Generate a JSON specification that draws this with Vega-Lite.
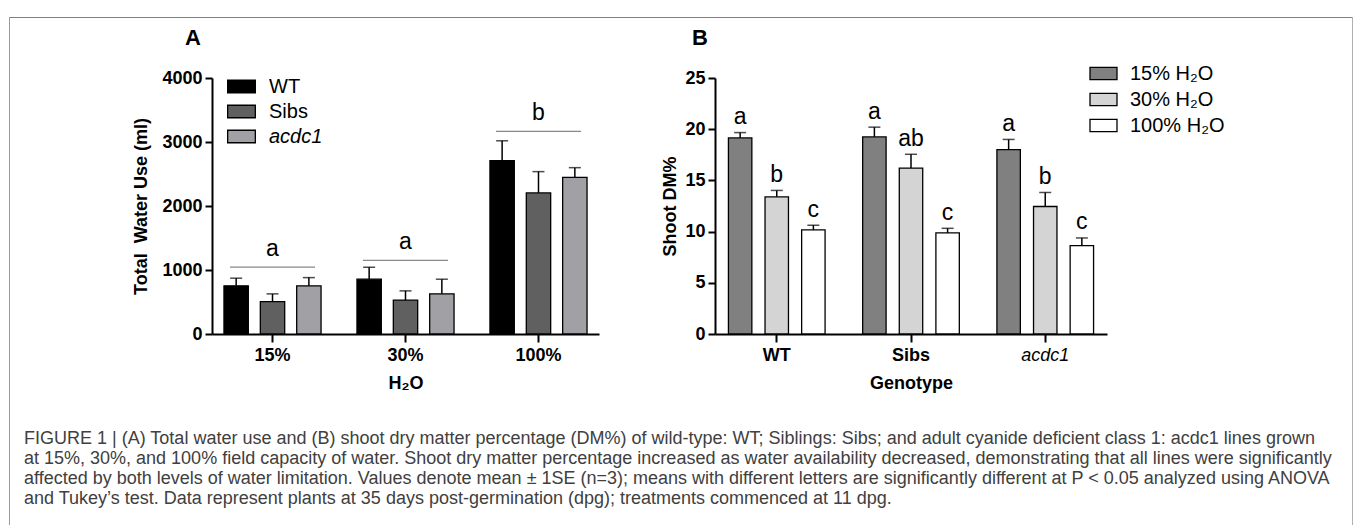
{
  "$schema": "https://vega.github.io/schema/vega-lite/v6.json",
  "padding": {"left": 9, "top": 11, "right": 0, "bottom": 0},
  "background": "white",
  "spacing": 0,
  "datasets": {
    "waterUse": [
      {"water": "15%", "genotype": "WT", "mean": 752, "upper": 872},
      {"water": "15%", "genotype": "Sibs", "mean": 507, "upper": 627},
      {"water": "15%", "genotype": "acdc1", "mean": 752, "upper": 881},
      {"water": "30%", "genotype": "WT", "mean": 856, "upper": 1043},
      {"water": "30%", "genotype": "Sibs", "mean": 529, "upper": 674},
      {"water": "30%", "genotype": "acdc1", "mean": 627, "upper": 856},
      {"water": "100%", "genotype": "WT", "mean": 2708, "upper": 3019},
      {"water": "100%", "genotype": "Sibs", "mean": 2204, "upper": 2537},
      {"water": "100%", "genotype": "acdc1", "mean": 2448, "upper": 2599}
    ],
    "waterLetters": [
      {"water": "15%", "letter": "a", "level": 1045},
      {"water": "30%", "letter": "a", "level": 1150},
      {"water": "100%", "letter": "b", "level": 3165}
    ],
    "dm": [
      {"genotype": "WT", "water": "15% H₂O", "mean": 19.15, "upper": 19.67, "letter": "a"},
      {"genotype": "WT", "water": "30% H₂O", "mean": 13.4, "upper": 14.02, "letter": "b"},
      {"genotype": "WT", "water": "100% H₂O", "mean": 10.17, "upper": 10.62, "letter": "c"},
      {"genotype": "Sibs", "water": "15% H₂O", "mean": 19.25, "upper": 20.2, "letter": "a"},
      {"genotype": "Sibs", "water": "30% H₂O", "mean": 16.2, "upper": 17.55, "letter": "ab"},
      {"genotype": "Sibs", "water": "100% H₂O", "mean": 9.87, "upper": 10.32, "letter": "c"},
      {"genotype": "acdc1", "water": "15% H₂O", "mean": 18.0, "upper": 19.0, "letter": "a"},
      {"genotype": "acdc1", "water": "30% H₂O", "mean": 12.45, "upper": 13.82, "letter": "b"},
      {"genotype": "acdc1", "water": "100% H₂O", "mean": 8.63, "upper": 9.38, "letter": "c"}
    ]
  },
  "config": {
    "view": {"stroke": null},
    "font": "Liberation Sans",
    "axis": {
      "domainColor": "black", "domainWidth": 2, "tickColor": "black", "tickWidth": 2, "tickSize": 7,
      "labelFont": "Liberation Sans", "labelFontSize": 18, "labelFontWeight": "bold", "labelColor": "black", "labelPadding": 3,
      "titleFont": "Liberation Sans", "titleFontSize": 18, "titleFontWeight": "bold", "titleColor": "black", "grid": false
    },
    "axisX": {"tickSize": 8, "labelPadding": 4, "titlePadding": 10, "labelAngle": 0}
  },
  "hconcat": [
    {
      "width": 1, "height": 512,
      "view": {"stroke": null, "fill": "#9a9a9a"},
      "data": {"values": [{}]},
      "mark": {"type": "text", "text": ""}
    },
    {
      "spacing": 4,
      "title": {
        "text": [
          "FIGURE 1 | (A) Total water use and (B) shoot dry matter percentage (DM%) of wild-type: WT; Siblings: Sibs; and adult cyanide deficient class 1: acdc1 lines grown",
          "at 15%, 30%, and 100% field capacity of water. Shoot dry matter percentage increased as water availability decreased, demonstrating that all lines were significantly",
          "affected by both levels of water limitation. Values denote mean ± 1SE (n=3); means with different letters are significantly different at P < 0.05 analyzed using ANOVA",
          "and Tukey’s test. Data represent plants at 35 days post-germination (dpg); treatments commenced at 11 dpg."
        ],
        "orient": "bottom", "anchor": "start", "frame": "group", "dx": 14, "offset": 38,
        "fontSize": 18, "fontWeight": "normal", "font": "Liberation Sans", "color": "#404040",
        "lineHeight": 20, "baseline": "top"
      },
      "vconcat": [
        {
          "width": 1342, "height": 1,
          "view": {"stroke": null, "fill": "#808080"},
          "data": {"values": [{}]},
          "mark": {"type": "text", "text": ""}
        },
        {
          "bounds": "flush",
          "spacing": 116,
          "resolve": {
            "scale": {"x": "independent", "y": "independent", "xOffset": "independent", "fill": "independent"},
            "axis": {"x": "independent", "y": "independent"},
            "legend": {"fill": "independent"}
          },
          "hconcat": [
            {
              "width": 86, "height": 1,
              "data": {"values": [{}]},
              "mark": {"type": "text", "text": ""}
            },
            {
              "width": 387, "height": 256,
              "title": {"text": "A", "anchor": "start", "frame": "group", "dx": -27, "fontSize": 22, "fontWeight": "bold", "font": "Liberation Sans", "color": "black", "offset": 2, "baseline": "alphabetic"},
              "encoding": {
                "x": {
                  "field": "water", "type": "nominal", "sort": ["15%", "30%", "100%"],
                  "scale": {"paddingInner": 0.27, "paddingOuter": 0.09},
                  "axis": {"title": "H₂O"}
                }
              },
              "layer": [
                {
                  "data": {"name": "waterUse"},
                  "mark": {"type": "bar", "stroke": "black", "strokeWidth": 1.3},
                  "encoding": {
                    "xOffset": {"field": "genotype", "type": "nominal", "sort": ["WT", "Sibs", "acdc1"], "scale": {"paddingInner": 0.33, "paddingOuter": 0}},
                    "y": {
                      "field": "mean", "type": "quantitative",
                      "scale": {"domain": [0, 4000], "nice": false},
                      "axis": {"values": [0, 1000, 2000, 3000, 4000], "format": "d", "title": "Total\u00a0 Water Use (ml)", "titlePadding": 11}
                    },
                    "fill": {
                      "field": "genotype", "type": "nominal", "sort": ["WT", "Sibs", "acdc1"],
                      "scale": {"domain": ["WT", "Sibs", "acdc1"], "range": ["#000000", "#606060", "#a1a1a5"]},
                      "legend": {
                        "orient": "none", "legendX": 15, "legendY": -6, "title": null,
                        "symbolType": "M-1,-0.45H1V0.45H-1Z", "symbolSize": 767,
                        "symbolStrokeColor": "black", "symbolStrokeWidth": 1.3,
                        "labelFont": "Liberation Sans", "labelFontSize": 20, "labelColor": "black",
                        "labelOffset": 13, "rowPadding": -1,
                        "encode": {"labels": {"update": {"fontStyle": {"signal": "datum.value === 'acdc1' ? 'italic' : 'normal'"}}}}
                      }
                    }
                  }
                },
                {
                  "data": {"name": "waterUse"},
                  "mark": {"type": "rule", "color": "black", "strokeWidth": 1.5},
                  "encoding": {
                    "xOffset": {"field": "genotype", "type": "nominal", "sort": ["WT", "Sibs", "acdc1"]},
                    "y": {"field": "mean", "type": "quantitative", "axis": {"values": [0, 1000, 2000, 3000, 4000], "format": "d", "title": "Total\u00a0 Water Use (ml)", "titlePadding": 11}},
                    "y2": {"field": "upper"}
                  }
                },
                {
                  "data": {"name": "waterUse"},
                  "mark": {"type": "tick", "orient": "horizontal", "color": "black", "thickness": 1.5, "size": 12},
                  "encoding": {
                    "xOffset": {"field": "genotype", "type": "nominal", "sort": ["WT", "Sibs", "acdc1"]},
                    "y": {"field": "upper", "type": "quantitative", "axis": {"values": [0, 1000, 2000, 3000, 4000], "format": "d", "title": "Total\u00a0 Water Use (ml)", "titlePadding": 11}}
                  }
                },
                {
                  "data": {"name": "waterLetters"},
                  "mark": {"type": "tick", "orient": "horizontal", "color": "#555555", "thickness": 1.3, "size": 85},
                  "encoding": {
                    "y": {"field": "level", "type": "quantitative", "axis": {"values": [0, 1000, 2000, 3000, 4000], "format": "d", "title": "Total\u00a0 Water Use (ml)", "titlePadding": 11}}
                  }
                },
                {
                  "data": {"name": "waterLetters"},
                  "mark": {"type": "text", "fontSize": 23, "dy": -11, "baseline": "alphabetic", "color": "black", "font": "Liberation Sans"},
                  "encoding": {
                    "y": {"field": "level", "type": "quantitative", "axis": {"values": [0, 1000, 2000, 3000, 4000], "format": "d", "title": "Total\u00a0 Water Use (ml)", "titlePadding": 11}},
                    "text": {"field": "letter"}
                  }
                }
              ]
            },
            {
              "width": 392, "height": 256,
              "title": {"text": "B", "anchor": "start", "frame": "group", "dx": -23, "fontSize": 22, "fontWeight": "bold", "font": "Liberation Sans", "color": "black", "offset": -8, "baseline": "alphabetic"},
              "data": {"name": "dm"},
              "encoding": {
                "x": {
                  "field": "genotype", "type": "nominal", "sort": ["WT", "Sibs", "acdc1"],
                  "scale": {"paddingInner": 0.28, "paddingOuter": 0.1},
                  "axis": {
                    "title": "Genotype",
                    "labelFontStyle": {"condition": {"test": "datum.value === 'acdc1'", "value": "italic"}, "value": "normal"},
                    "labelFontWeight": {"condition": {"test": "datum.value === 'acdc1'", "value": "normal"}, "value": "bold"}
                  }
                },
                "xOffset": {"field": "water", "type": "nominal", "sort": ["15% H₂O", "30% H₂O", "100% H₂O"], "scale": {"paddingInner": 0.36, "paddingOuter": 0}}
              },
              "layer": [
                {
                  "mark": {"type": "bar", "stroke": "black", "strokeWidth": 1.3},
                  "encoding": {
                    "y": {
                      "field": "mean", "type": "quantitative",
                      "scale": {"domain": [0, 25], "nice": false},
                      "axis": {"values": [0, 5, 10, 15, 20, 25], "title": "Shoot DM%", "titlePadding": 5}
                    },
                    "fill": {
                      "field": "water", "type": "nominal", "sort": ["15% H₂O", "30% H₂O", "100% H₂O"],
                      "scale": {"domain": ["15% H₂O", "30% H₂O", "100% H₂O"], "range": ["#808080", "#d4d4d4", "#ffffff"]},
                      "legend": {
                        "orient": "none", "legendX": 374, "legendY": -19, "title": null,
                        "symbolType": "M-1,-0.455H1V0.455H-1Z", "symbolSize": 729,
                        "symbolStrokeColor": "black", "symbolStrokeWidth": 1.3,
                        "labelFont": "Liberation Sans", "labelFontSize": 20, "labelColor": "black",
                        "labelOffset": 12, "rowPadding": 1
                      }
                    }
                  }
                },
                {
                  "mark": {"type": "rule", "color": "black", "strokeWidth": 1.5},
                  "encoding": {
                    "y": {"field": "mean", "type": "quantitative", "axis": {"values": [0, 5, 10, 15, 20, 25], "title": "Shoot DM%", "titlePadding": 5}},
                    "y2": {"field": "upper"}
                  }
                },
                {
                  "mark": {"type": "tick", "orient": "horizontal", "color": "black", "thickness": 1.5, "size": 12},
                  "encoding": {
                    "y": {"field": "upper", "type": "quantitative", "axis": {"values": [0, 5, 10, 15, 20, 25], "title": "Shoot DM%", "titlePadding": 5}}
                  }
                },
                {
                  "mark": {"type": "text", "fontSize": 23, "dy": -8.5, "baseline": "alphabetic", "color": "black", "font": "Liberation Sans"},
                  "encoding": {
                    "y": {"field": "upper", "type": "quantitative", "axis": {"values": [0, 5, 10, 15, 20, 25], "title": "Shoot DM%", "titlePadding": 5}},
                    "text": {"field": "letter"}
                  }
                }
              ]
            }
          ]
        }
      ]
    },
    {
      "width": 1, "height": 512,
      "view": {"stroke": null, "fill": "#b0b0b0"},
      "data": {"values": [{}]},
      "mark": {"type": "text", "text": ""}
    }
  ]
}
